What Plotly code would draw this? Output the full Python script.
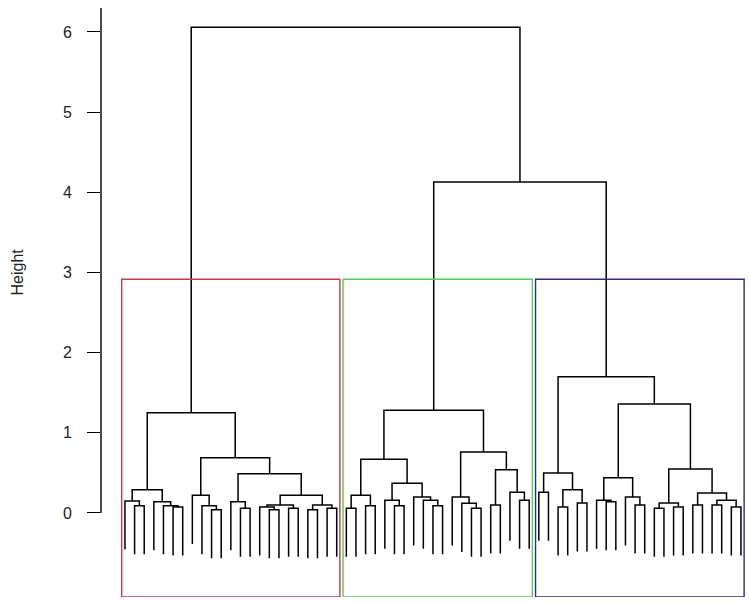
import plotly.graph_objects as go

# ---- data: hierarchical clustering (R-style merge table) ----
# negative = leaf (its position in the plot order), positive = earlier merge row (1-based)
merge_left = [
    -2, -1, -6, -5, -4, 2, -10, -9, -8, -13, -12, -16, -15, -18, 13, -20, -22, 16, 15, 11, 9, 6,
    -24, -26, 23, -29, -28, -33, -32, -31, 27, 25, -37, -36, -35, -39, -42, -41, 36, 35, 32,
    -44, -46, -48, 43, 42, -51, -50, -54, -53, 48, -56, -58, 52, -60, -62, -64, 56, 55, 54, 51, 46,
    41, 22,
]
merge_right = [
    -3, 1, -7, 3, 4, 5, -11, 7, 8, -14, 10, -17, 12, -19, 14, -21, -23, 17, 18, 19, 20, 21,
    -25, -27, 24, -30, 26, -34, 28, 29, 30, 31, -38, 33, 34, -40, -43, 37, 38, 39, 40,
    -45, -47, -49, 44, 45, -52, 47, -55, 49, 50, -57, -59, 53, -61, -63, -65, 57, 58, 59, 60, 61,
    62, 63,
]
merge_height = [
    0.09, 0.15, 0.075, 0.09, 0.14, 0.29, 0.04, 0.09, 0.22, 0.06, 0.14, 0.04, 0.075, 0.06, 0.10,
    0.04, 0.06, 0.10, 0.22, 0.49, 0.69, 1.25,
    0.06, 0.09, 0.22, 0.09, 0.16, 0.09, 0.16, 0.20, 0.37, 0.67, 0.06, 0.12, 0.20, 0.10, 0.16,
    0.26, 0.54, 0.76, 1.28,
    0.26, 0.075, 0.125, 0.29, 0.50, 0.14, 0.16, 0.10, 0.20, 0.44, 0.06, 0.075, 0.125, 0.10,
    0.10, 0.075, 0.16, 0.25, 0.55, 1.36, 1.70,
    4.13, 6.06,
]
n_leaves = 65
k_clusters = 3
hang = 0.1
box_colors = ["#C93A4A", "#55CC55", "#2B2B88"]
y_ticks = [0, 1, 2, 3, 4, 5, 6]
y_label = "Height"

# ---- layout of the tree ----
max_h = max(merge_height)
hang_len = hang * max_h
mx = []
for i in range(len(merge_height)):
    def cx(c):
        return float(-c) if c < 0 else mx[c - 1]
    mx.append((cx(merge_left[i]) + cx(merge_right[i])) / 2.0)

xs, ys = [], []
for i in range(len(merge_height)):
    h = merge_height[i]
    pts = []
    for c in (merge_left[i], merge_right[i]):
        if c < 0:
            pts.append((float(-c), h - hang_len))
        else:
            pts.append((mx[c - 1], merge_height[c - 1]))
    (xl, yl), (xr, yr) = pts
    xs += [xl, xl, xr, xr, None]
    ys += [yl, h, h, yr, None]

fig = go.Figure()
fig.add_trace(go.Scatter(x=xs, y=ys, mode="lines",
                         line=dict(color="black", width=1.5),
                         hoverinfo="skip", showlegend=False, cliponaxis=False))

# ---- cut into k clusters (like rect.hclust) ----
def leaves_of(c):
    if c < 0:
        return [-c]
    return leaves_of(merge_left[c - 1]) + leaves_of(merge_right[c - 1])

groups = [len(merge_height)]
while len(groups) < k_clusters:
    cand = [g for g in groups if g > 0]
    top = max(cand, key=lambda g: merge_height[g - 1])
    groups.remove(top)
    groups += [merge_left[top - 1], merge_right[top - 1]]
groups.sort(key=lambda g: min(leaves_of(g)))
sorted_h = sorted(merge_height, reverse=True)
box_top = (sorted_h[k_clusters - 2] + sorted_h[k_clusters - 1]) / 2.0

x_lo, x_hi = -1.49, 65.94
y_lo, y_hi = -1.048, 6.399

def px(x):  # data x -> paper x (so boxes are not clipped at the plot edge)
    return (x - x_lo) / (x_hi - x_lo)

for g, col in zip(groups, box_colors):
    lv = leaves_of(g)
    fig.add_shape(type="rect", xref="paper", yref="y",
                  x0=px(min(lv) - 0.34), x1=px(max(lv) + 0.33), y0=y_lo, y1=box_top,
                  line=dict(color=col, width=1.4), fillcolor="rgba(0,0,0,0)")

# y axis line from 0 to just above top tick
fig.add_shape(type="line", xref="paper", yref="y", x0=0, x1=0, y0=0, y1=6.3,
              line=dict(color="black", width=1.4))

fig.add_annotation(text=y_label, xref="paper", yref="y", x=(17 - 101) / 649, y=3,
                   textangle=-90, showarrow=False, xanchor="center", yanchor="middle",
                   font=dict(size=16, color="#222", family="Liberation Sans, Arial, sans-serif"))

fig.update_layout(
    width=750, height=603,
    margin=dict(l=101, r=0, t=0, b=6),
    paper_bgcolor="white", plot_bgcolor="white",
    font=dict(family="Liberation Sans, Arial, sans-serif", size=16, color="#222"),
    xaxis=dict(range=[x_lo, x_hi], visible=False, showgrid=False, zeroline=False),
    yaxis=dict(range=[y_lo, y_hi], tickmode="array", tickvals=y_ticks,
               ticktext=[str(t) for t in y_ticks],
               ticks="outside", ticklen=13, tickwidth=1.4, tickcolor="black",
               ticklabelstandoff=12,
               showline=False, showgrid=False, zeroline=False),
)

fig.write_html("out.html", config={"displayModeBar": False},
               post_script="document.body.style.margin='0';document.body.style.overflow='hidden';")
